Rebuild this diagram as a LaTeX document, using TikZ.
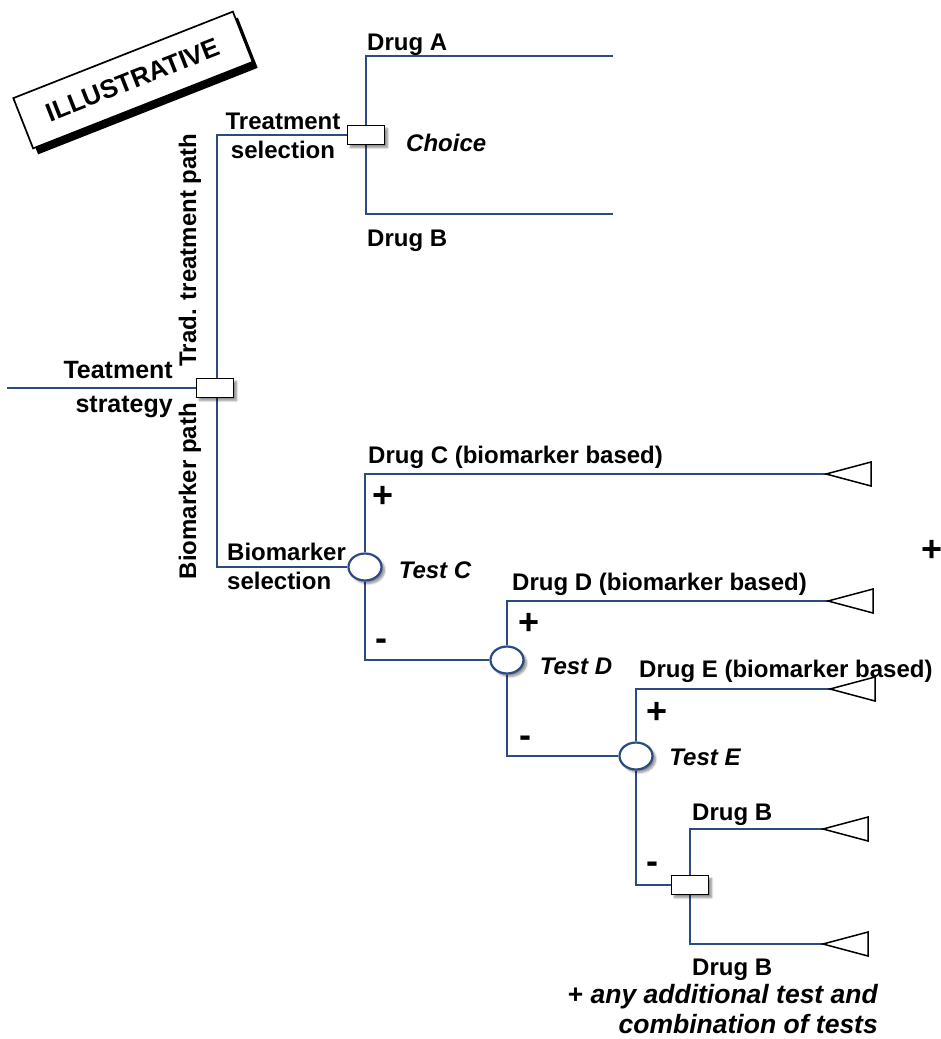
\documentclass[tikz,border=0pt]{standalone}
\usepackage{fontspec}
\setmainfont{Liberation Sans}
\usetikzlibrary{shapes.geometric,shadows,shadows.blur,backgrounds}
\definecolor{wire}{RGB}{44,74,132}
\begin{document}
\begin{tikzpicture}[x=1pt,y=-1pt,
  wirepath/.style={draw=wire,line width=2.8pt},
  decbox/.style={draw=black,line width=1.7pt,fill=white,minimum width=37pt,minimum height=19pt,inner sep=0pt,
    blur shadow={shadow xshift=3pt,shadow yshift=-3pt,shadow blur steps=6,shadow opacity=45}},
  chance/.style={ellipse,draw=wire,line width=2.2pt,fill=white,minimum width=33pt,minimum height=27pt,inner sep=0pt,
    blur shadow={shadow xshift=3pt,shadow yshift=-3pt,shadow blur steps=6,shadow opacity=45}},
  endtri/.style={draw=black,line width=1.5pt,fill=white},
  lbl/.style={font=\fontsize{24}{29}\selectfont\bfseries,inner sep=0pt},
  ilbl/.style={font=\fontsize{24}{29}\selectfont\bfseries\itshape,inner sep=0pt},
  sign/.style={font=\fontsize{36}{36}\selectfont\bfseries,inner sep=0pt}
]
\useasboundingbox (0,0) rectangle (941,1039);

% stamp with its solid black shadow
\node[fill=black,minimum width=236pt,minimum height=54pt,rotate=21.5] (stampshade) at (138,86) {};
\node[draw=black,line width=1.7pt,fill=white,minimum width=236pt,minimum height=54pt,rotate=21.5,
  font=\fontsize{26}{30}\selectfont\bfseries] (stamp) at (133,80) {ILLUSTRATIVE};

% decision and chance nodes
\node[decbox] (d0) at (215,388) {};
\node[decbox] (d1) at (366,135) {};
\node[chance] (cC) at (365,567) {};
\node[chance] (cD) at (507,660) {};
\node[chance] (cE) at (636,756) {};
\node[decbox] (d2) at (690,885) {};

% free ends of branches
\coordinate (root) at (7,388);
\coordinate (endA) at (613,56);
\coordinate (endB) at (613,214);
\coordinate (endC) at (826,474);
\coordinate (endD) at (828,601);
\coordinate (endE) at (830,689);
\coordinate (endB1) at (823,829);
\coordinate (endB2) at (823,944);

% branches, behind the nodes
\begin{scope}[on background layer]
\draw[wirepath] (root) -- (d0.west);
\draw[wirepath] ([xshift=2pt]d0.north) |- (d1.west);
\draw[wirepath] (d1.north) |- (endA);
\draw[wirepath] (d1.south) |- (endB);
\draw[wirepath] ([xshift=2pt]d0.south) |- (cC.west);
\draw[wirepath] (cC.north) |- (endC);
\draw[wirepath] (cC.south) |- (cD.west);
\draw[wirepath] (cD.north) |- (endD);
\draw[wirepath] (cD.south) |- (cE.west);
\draw[wirepath] (cE.north) |- (endE);
\draw[wirepath] (cE.south) |- (d2.west);
\draw[wirepath] (d2.north) |- (endB1);
\draw[wirepath] (d2.south) |- (endB2);
\end{scope}

% terminal triangles
\foreach \e in {endC,endD,endE,endB1,endB2}
  \draw[endtri] (\e) -- ++(45,-12) -- ++(0,24) -- cycle;

% labels
\node[lbl,anchor=base west] (lA) at (367,50) {Drug A};
\node[lbl,anchor=base west] (lB) at (367,246) {Drug B};
\node[ilbl,anchor=base west] (lch) at (406,151) {Choice};
\node[lbl,align=center] (lts) at (283,136) {Treatment\\selection};
\node[lbl,align=left,anchor=west] (lbs) at (227,566) {Biomarker\\selection};
\node[lbl,align=right,anchor=east,font=\fontsize{25}{34}\selectfont\bfseries] (lstr) at (173,390) {Teatment\\strategy};
\node[lbl,rotate=90] (ltrad) at (190,250) {Trad. treatment path};
\node[lbl,rotate=90] (lbio) at (190,491) {Biomarker path};

\node[lbl,anchor=base west] (lC) at (368,463) {Drug C (biomarker based)};
\node[lbl,anchor=base west] (lD) at (512,590) {Drug D (biomarker based)};
\node[lbl,anchor=base west] (lE) at (639,677) {Drug E (biomarker based)};
\node[lbl,anchor=base west] (lB1) at (692,820) {Drug B};
\node[lbl,anchor=base west] (lB2) at (692,975) {Drug B};

\node[ilbl] (tC) at (435,570) {Test C};
\node[ilbl] (tD) at (576,666) {Test D};
\node[ilbl] (tE) at (705,757) {Test E};

\node[sign] (pC) at (383,497) {+};
\node[sign] (pD) at (529,624) {+};
\node[sign] (pE) at (657,713) {+};
\node[sign] (pX) at (932,551) {+};
\node[sign] (mC) at (381,645) {-};
\node[sign] (mD) at (525,742) {-};
\node[sign] (mE) at (652,868) {-};

\node[lbl,align=right,anchor=east,font=\fontsize{26.5}{30}\selectfont\bfseries] (lnote) at (878,1009)
  {+ \itshape any additional test and\\\itshape combination of tests};
\end{tikzpicture}
\end{document}
